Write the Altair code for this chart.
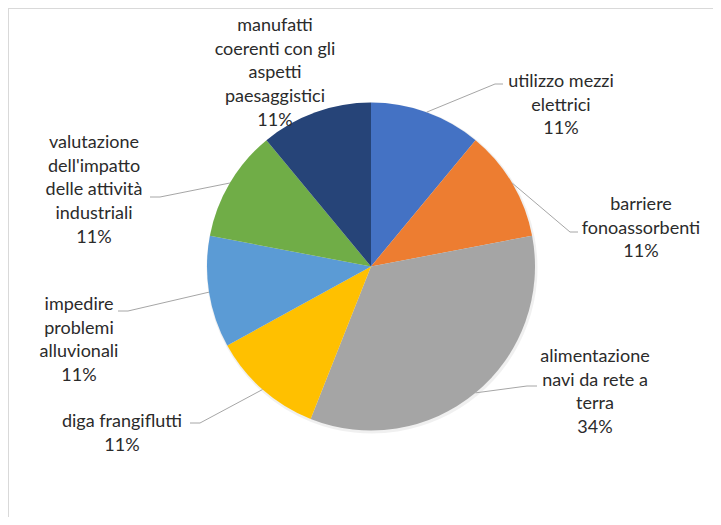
import math
import altair as alt
import pandas as pd

# ---------------- data ----------------
categories = [
    "utilizzo mezzi elettrici",
    "barriere fonoassorbenti",
    "alimentazione navi da rete a terra",
    "diga frangiflutti",
    "impedire problemi alluvionali",
    "valutazione dell'impatto delle attività industriali",
    "manufatti coerenti con gli aspetti paesaggistici",
]
values = [11, 11, 34, 11, 11, 11, 11]
label_lines = [
    ["utilizzo mezzi", "elettrici"],
    ["barriere", "fonoassorbenti"],
    ["alimentazione", "navi da rete a", "terra"],
    ["diga frangiflutti"],
    ["impedire", "problemi", "alluvionali"],
    ["valutazione", "dell'impatto", "delle attività", "industriali"],
    ["manufatti", "coerenti con gli", "aspetti", "paesaggistici"],
]
colors = ["#4472C4", "#ED7D31", "#A5A5A5", "#FFC000", "#5B9BD5", "#70AD47", "#264478"]

# ---------------- layout (styles / positions) ----------------
W, H = 705, 509
CX, CY, R = 363, 258.5, 164
LINE_H = 23.7
label_pos = [(553, 74), (633, 197), (587, 349), (114, 414), (71, 297), (86, 135), (267, 18)]
leader_pts = [
    [(487, 76), (495, 76)],
    [(562, 224), (570, 224)],
    [(519, 378), (529, 378)],
    [(192, 415), (182, 415)],
    [(120, 303), (110, 303)],
    [(152, 189), (142, 189)],
    None,
]
FONT = "Lato"
TXT = "#2B2B2B"

# ---------------- tables ----------------
df = pd.DataFrame({"cat": categories, "value": values, "idx": list(range(len(values)))})

total = sum(values)
text_rows, line_rows = [], []
cum = 0
for i, (cat, v) in enumerate(zip(categories, values)):
    mid = (cum + v / 2) / total * 2 * math.pi
    cum += v
    lines = label_lines[i] + [f"{v}%"]
    lx, ly = label_pos[i]
    for j, t in enumerate(lines):
        text_rows.append({"cat": cat, "t": t, "tx": lx, "ty": ly + j * LINE_H})
    if leader_pts[i]:
        ex = CX + R * math.sin(mid)
        ey = CY - R * math.cos(mid)
        pts = [(ex, ey)] + leader_pts[i]
        for k, (px, py) in enumerate(pts):
            line_rows.append({"cat": cat, "k": k, "px": px, "py": py})

tdf = pd.DataFrame(text_rows)
ldf = pd.DataFrame(line_rows)

shadow = alt.Chart(df).mark_arc(radius=R + 1.5, color="#000000", opacity=0.06).encode(
    theta=alt.Theta("value:Q", stack=True),
    order=alt.Order("idx:Q", sort="ascending"),
    x=alt.value(CX + 1),
    y=alt.value(CY + 1.5),
)

pie = alt.Chart(df).mark_arc(radius=R).encode(
    theta=alt.Theta("value:Q", stack=True),
    order=alt.Order("idx:Q", sort="ascending"),
    color=alt.Color("cat:N", scale=alt.Scale(domain=categories, range=colors), legend=None),
    x=alt.value(CX),
    y=alt.value(CY),
)

leaders = alt.Chart(ldf).mark_line(color="#A6A6A6", strokeWidth=1).encode(
    x=alt.X("px:Q", scale=None),
    y=alt.Y("py:Q", scale=None),
    detail="cat:N",
    order="k:Q",
)

labels = alt.Chart(tdf).mark_text(
    font=FONT, fontSize=18, color=TXT, align="center", baseline="middle"
).encode(
    x=alt.X("tx:Q", scale=None),
    y=alt.Y("ty:Q", scale=None),
    text="t:N",
)

# outer chart frame: a rectangle larger than the canvas, so only top & left edges show
frame = alt.Chart(df).mark_rect(
    fill="transparent", stroke="#D9D9D9", strokeWidth=1
).encode(
    x=alt.value(0.5), x2=alt.value(W + 40), y=alt.value(0.5), y2=alt.value(H + 40)
)

chart = (
    alt.layer(frame, shadow, pie, leaders, labels)
    .properties(
        width=W, height=H, padding=0, background="white",
        autosize=alt.AutoSizeParams(type="none"),
    )
    .configure_view(strokeWidth=0, stroke="transparent")
)

chart.save("out.html", embed_options={"renderer": "svg", "actions": False})
